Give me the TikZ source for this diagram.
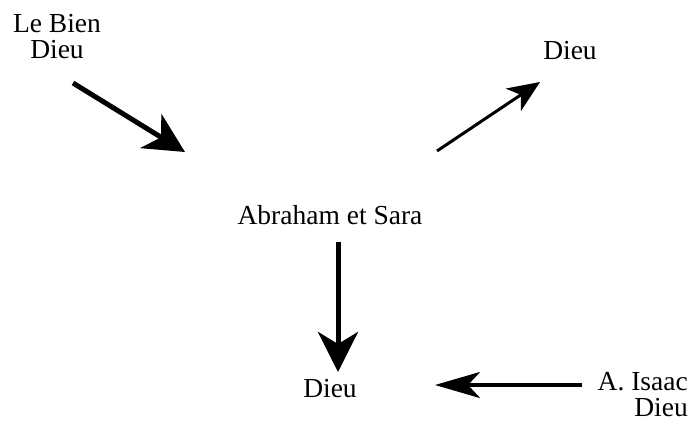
\documentclass[tikz,border=0pt]{standalone}
\usepackage{fontspec}
\setmainfont{Liberation Serif}
\usepackage{tikz}
\usetikzlibrary{arrows.meta}

\begin{document}
\begin{tikzpicture}[x=1pt, y=-1pt,
  font=\fontsize{27.5}{26}\selectfont,
  wordnode/.style={inner sep=0pt, align=center},
  heavy/.style={line width=5pt, -{Stealth[length=40pt, width=40pt, inset=12pt]}},
  light/.style={line width=3pt, -{Stealth[length=32pt, width=27pt, inset=9pt]}}]
  \useasboundingbox (0,0) rectangle (691,423);

  \node[wordnode] (lebien) at (57,37) {Le Bien\\Dieu};
  \node[wordnode, anchor=base] (abraham) at (330,224) {Abraham et Sara};
  \node[wordnode, anchor=base] (dieutop) at (570,59) {Dieu};
  \node[wordnode, anchor=base] (dieubot) at (330,397) {Dieu};
  \node[wordnode, align=right, anchor=east] (isaac) at (688,395) {A. Isaac\\Dieu};

  \coordinate (fromlebien) at (73,83);
  \coordinate (toabraham) at (185,152);
  \coordinate (fromabraham) at (437,151);
  \coordinate (todieutop) at (540,82);
  \coordinate (downstart) at (338,242);
  \coordinate (todieubot) at (338,372);
  \coordinate (fromisaac) at (582,385);
  \coordinate (toisaac) at (435,385);

  \draw[heavy] (fromlebien) -- (toabraham);
  \draw[light] (fromabraham) -- (todieutop);
  \draw[heavy] (downstart) -- (todieubot);
  \draw[line width=4pt, -{Stealth[length=45pt, width=26pt, inset=12pt]}] (fromisaac) -- (toisaac);
\end{tikzpicture}
\end{document}
